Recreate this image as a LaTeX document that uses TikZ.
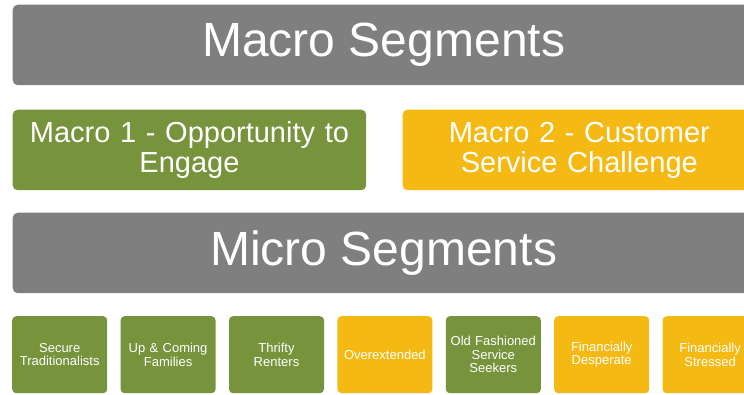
\documentclass[tikz,border=0pt]{standalone}
\usepackage{fontspec}
\setmainfont{Liberation Sans}
\usetikzlibrary{positioning}

\definecolor{segGrey}{HTML}{7F7F7F}
\definecolor{segGreen}{HTML}{77933C}
\definecolor{segGold}{HTML}{F5B914}

\begin{document}
\begin{tikzpicture}[x=1pt, y=-1pt,
  bar/.style={fill=segGrey, rounded corners=5pt, minimum width=742pt,
              minimum height=80.5pt, inner sep=0pt, text=white,
              font=\fontsize{48}{50}\selectfont},
  macro/.style={rounded corners=5pt, minimum width=353.5pt, minimum height=80.5pt,
                text width=340pt, align=center, inner sep=0pt, text=white,
                font=\fontsize{29}{30}\selectfont},
  micro/.style={rounded corners=4pt, minimum width=95pt, minimum height=77pt,
                text width=92pt, align=center, inner sep=0pt, text=white,
                font=\fontsize{13}{13.6}\selectfont}]
\useasboundingbox (0,0) rectangle (744,394);
% headline bars and the two macro groups
\node[bar, anchor=north west] (macros) at (12.5,4.5) {Macro Segments};
\node[macro, fill=segGreen, anchor=north west] (macroA) at (12.5,109.5)
  {Macro 1 - Opportunity to\\Engage};
\node[macro, fill=segGold, right=36pt of macroA] (macroB)
  {Macro 2 - Customer\\Service Challenge};
\node[bar, anchor=north west] (micros) at (12.5,212.5) {Micro Segments};
% row of micro segments
\node[micro, fill=segGreen, anchor=north west] (secure) at (12,316)
  {Secure\\Traditionalists};
\node[micro, fill=segGreen, right=13pt of secure] (families) {Up \& Coming\\Families};
\node[micro, fill=segGreen, right=13pt of families] (renters) {Thrifty\\Renters};
\node[micro, fill=segGold, right=13pt of renters] (overext) {Overextended};
\node[micro, fill=segGreen, right=13pt of overext] (oldfash)
  {Old Fashioned\\Service\\Seekers};
\node[micro, fill=segGold, right=13pt of oldfash] (desperate) {Financially\\Desperate};
\node[micro, fill=segGold, right=13pt of desperate] (stressed) {Financially\\Stressed};
\end{tikzpicture}
\end{document}
